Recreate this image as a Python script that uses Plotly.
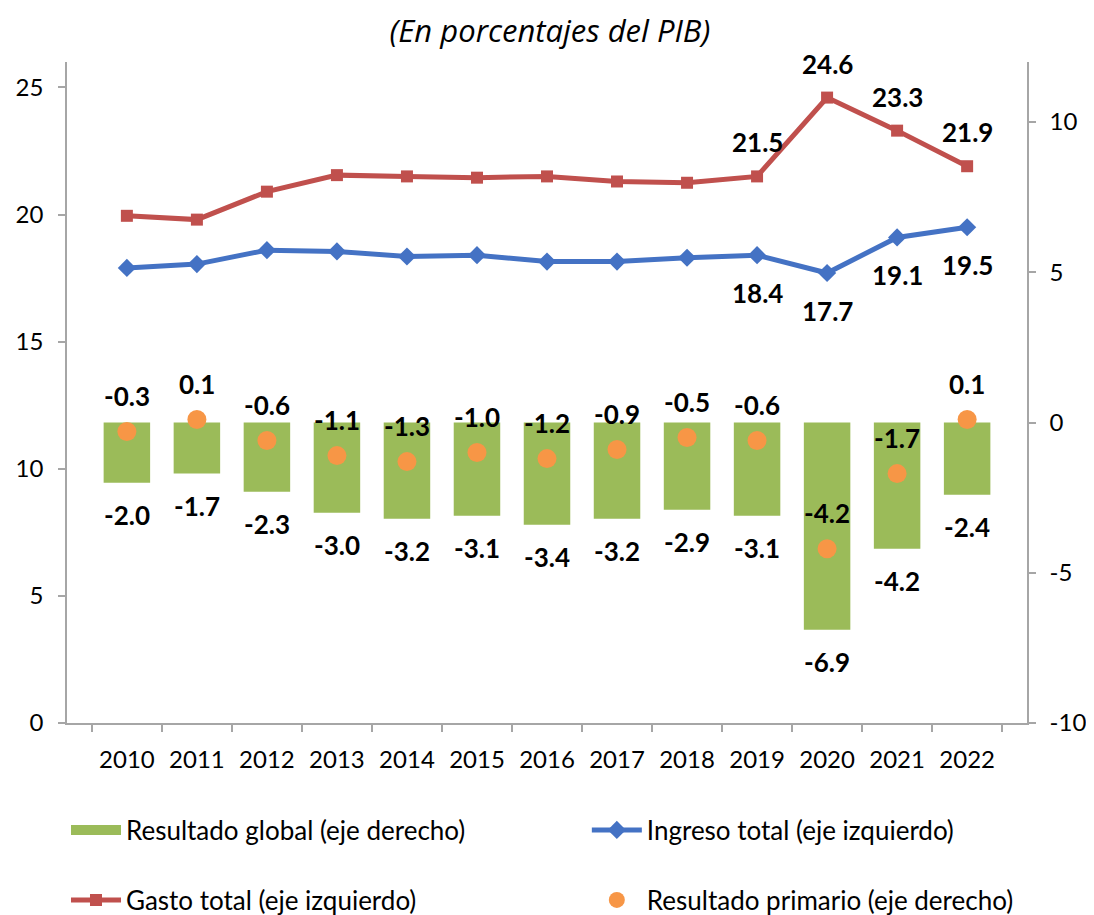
import plotly.graph_objects as go

years = ['2010', '2011', '2012', '2013', '2014', '2015', '2016',
         '2017', '2018', '2019', '2020', '2021', '2022']
gasto = [19.95, 19.8, 20.9, 21.55, 21.5, 21.45, 21.5, 21.3, 21.25, 21.5, 24.6, 23.3, 21.9]
ingreso = [17.9, 18.05, 18.6, 18.55, 18.35, 18.4, 18.15, 18.15, 18.3, 18.4, 17.7, 19.1, 19.5]
res_global = [-2.0, -1.7, -2.3, -3.0, -3.2, -3.1, -3.4, -3.2, -2.9, -3.1, -6.9, -4.2, -2.4]
res_primario = [-0.3, 0.1, -0.6, -1.1, -1.3, -1.0, -1.2, -0.9, -0.5, -0.6, -4.2, -1.7, 0.1]
labelled_years = ['2019', '2020', '2021', '2022']
right_ticks = [-10, -5, 0, 5, 10]
right_tick_text = ['-10', '-5', '0', '5', '10']

FONT = 'Lato'
AXIS_GREY = '#a6a6a6'
GREEN = '#9bbb59'

fig = go.Figure()

fig.add_trace(go.Bar(
    x=years, y=res_global, yaxis='y2',
    name='Resultado global (eje derecho)',
    marker=dict(color=GREEN, line=dict(width=0)),
    showlegend=False,
))
# legend-only entry so the swatch is a wide block like the original
fig.add_trace(go.Scatter(
    x=[None], y=[None], mode='lines', yaxis='y2',
    name='Resultado global (eje derecho)',
    line=dict(color=GREEN, width=16),
    legend='legend',
))
fig.add_trace(go.Scatter(
    x=years, y=ingreso, mode='lines+markers',
    name='Ingreso total (eje izquierdo)',
    line=dict(color='#4472c4', width=5),
    marker=dict(symbol='diamond', size=14, color='#4472c4'),
    legend='legend2',
))
fig.add_trace(go.Scatter(
    x=years, y=gasto, mode='lines+markers',
    name='Gasto total (eje izquierdo)',
    line=dict(color='#c0504d', width=5),
    marker=dict(symbol='square', size=12, color='#c0504d'),
    legend='legend3',
))
fig.add_trace(go.Scatter(
    x=years, y=res_primario, mode='markers', yaxis='y2',
    name='Resultado primario (eje derecho)',
    marker=dict(symbol='circle', size=19, color='#f79646'),
    legend='legend4',
))

# category axis: annotations are placed by category index
lbl_font = dict(family=FONT, size=26, color='black', weight='bold')
annotations = []
for idx, v in enumerate(res_global):
    annotations.append(dict(x=idx, y=v, xref='x', yref='y2', text=f'{v:.1f}',
                            showarrow=False, yshift=-32, font=lbl_font))
for idx, v in enumerate(res_primario):
    annotations.append(dict(x=idx, y=v, xref='x', yref='y2', text=f'{v:.1f}',
                            showarrow=False, yshift=36, font=lbl_font))
for idx, (yr, g, i) in enumerate(zip(years, gasto, ingreso)):
    if yr in labelled_years:
        annotations.append(dict(x=idx, y=g, xref='x', yref='y', text=f'{g:.1f}',
                                showarrow=False, yshift=34, font=lbl_font))
        annotations.append(dict(x=idx, y=i, xref='x', yref='y', text=f'{i:.1f}',
                                showarrow=False, yshift=-38, font=lbl_font))

axis_common = dict(showline=True, linecolor=AXIS_GREY, linewidth=1.5,
                   ticks='outside', tickcolor=AXIS_GREY, ticklen=7, tickwidth=1.5,
                   showgrid=False, zeroline=False, automargin=False,
                   tickfont=dict(family=FONT, size=24, color='black'))

legend_common = dict(orientation='h', xanchor='left', yanchor='middle',
                     xref='container', yref='container', itemwidth=50,
                     font=dict(family=FONT, size=26, color='black'),
                     bgcolor='rgba(0,0,0,0)')

# page body adds an 8px offset, so the figure is sized to end at the window edge
fig.update_layout(
    width=1086, height=907,
    margin=dict(l=59, r=67, t=54, b=192),
    paper_bgcolor='white', plot_bgcolor='white',
    title=dict(text='<i>(En porcentajes del PIB)</i>', x=0.499, xanchor='center',
               y=0.975, yanchor='middle',
               font=dict(family='Open Sans', size=31, color='black')),
    bargap=0.336,
    showlegend=True,
    xaxis=dict(**axis_common, tickson='boundaries', type='category', tickangle=0,
               ticklabelstandoff=14),
    yaxis=dict(**axis_common, range=[0, 26], dtick=5, tick0=0,
               ticklabelstandoff=10),
    yaxis2=dict(**axis_common, range=[-10, 12], tickvals=right_ticks,
                ticktext=right_tick_text,
                overlaying='y', side='right', ticklabelstandoff=9),
    legend=dict(**legend_common, x=0.0534, y=0.0937),
    legend2=dict(**legend_common, x=0.533, y=0.0937),
    legend3=dict(**legend_common, x=0.0534, y=0.0165),
    legend4=dict(**legend_common, x=0.533, y=0.0165),
    annotations=annotations,
)

fig.write_html('out.html')
